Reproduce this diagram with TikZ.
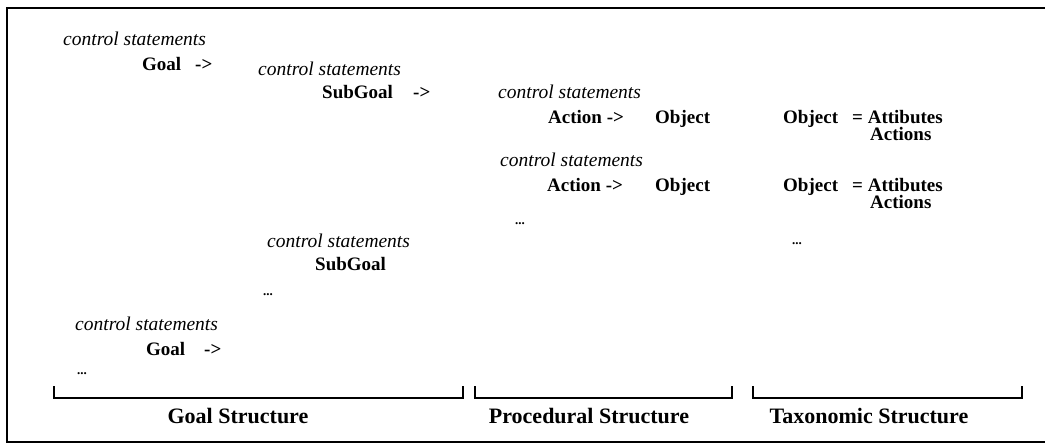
\documentclass[tikz,border=0pt]{standalone}
\usepackage{fontspec}
\setmainfont{Liberation Serif}
\usetikzlibrary{positioning}

\begin{document}
\begin{tikzpicture}[x=1pt,y=-1pt,
    every node/.style={inner sep=0pt,anchor=base west},
    ctl/.style={font=\fontsize{19.5}{22}\selectfont\itshape},
    term/.style={font=\fontsize{19}{22}\selectfont\bfseries},
    more/.style={font=\fontsize{13}{15}\selectfont\bfseries},
    struct/.style={font=\fontsize{22}{25}\selectfont\bfseries,anchor=base},
    bracket/.style={line width=2pt}]
    \useasboundingbox (0,0) rectangle (1045,445);
    \draw [line width=2pt] (1045,8) -| (7,442) -- (1045,442);

    \node [ctl] (ctl1) at (63,45) {control statements};
    \node [term] (goal1) at (142,70) {Goal};
    \node [term] (to1) at (195,70) {->};
    \node [ctl] (ctl2) at (258,75) {control statements};
    \node [term] (sub1) at (322,98) {SubGoal};
    \node [term] (to2) at (413,98) {->};

    \node [ctl] (ctl3) at (498,98) {control statements};
    \node [term] (act1) at (548,123) {Action ->};
    \node [term] (obj1) at (655,123) {Object};
    \node [term] (tax1) at (783,123) {Object};
    \node [term] (def1) at (852,123) {= Attibutes};
    \node [term] (acts1) at (870,140) {Actions};

    \node [ctl] (ctl4) at (500,166) {control statements};
    \node [term] (act2) at (547,191) {Action ->};
    \node [term] (obj2) at (655,191) {Object};
    \node [term] (tax2) at (783,191) {Object};
    \node [term] (def2) at (852,191) {= Attibutes};
    \node [term] (acts2) at (870,208) {Actions};
    \node [more] (more1) at (515,224) {...};
    \node [more] (more2) at (792,244) {...};

    \node [ctl] (ctl5) at (267,247) {control statements};
    \node [term] (sub2) at (315,270) {SubGoal};
    \node [more] (more3) at (263,295) {...};

    \node [ctl] (ctl6) at (75,330) {control statements};
    \node [term] (goal2) at (146,355) {Goal};
    \node [term] (to3) at (204,355) {->};
    \node [more] (more4) at (77,374) {...};

    \draw [bracket] (54,386) |- (463,398) -- (463,386);
    \draw [bracket] (475,386) |- (732,398) -- (732,386);
    \draw [bracket] (753,386) |- (1022,398) -- (1022,386);

    \node [struct] (goalst) at (238,423) {Goal Structure};
    \node [struct] (procst) at (589,423) {Procedural Structure};
    \node [struct] (taxst) at (869,423) {Taxonomic Structure};
\end{tikzpicture}
\end{document}
